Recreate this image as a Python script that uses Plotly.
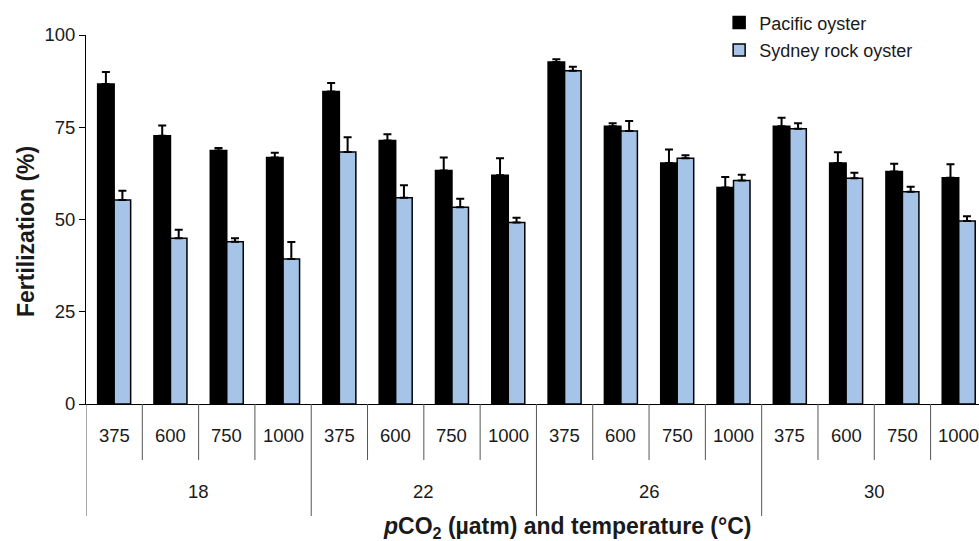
import plotly.graph_objects as go

temps = ["18", "22", "26", "30"]
pco2 = ["375", "600", "750", "1000"]

pacific = [86.7, 72.7, 68.7, 66.8, 84.7, 71.4, 63.3, 62.0, 92.7, 75.3, 65.3, 58.7, 75.3, 65.3, 63.0, 61.3]
pacific_err = [3.3, 2.8, 0.7, 1.3, 2.3, 1.7, 3.5, 4.6, 0.7, 0.8, 3.7, 2.8, 2.3, 2.9, 2.1, 3.7]
sydney = [55.3, 44.9, 44.0, 39.3, 68.3, 55.9, 53.3, 49.2, 90.3, 74.0, 66.6, 60.6, 74.6, 61.2, 57.5, 49.6]
sydney_err = [2.5, 2.3, 0.9, 4.6, 4.0, 3.4, 2.3, 1.3, 1.1, 2.7, 0.8, 1.5, 1.5, 1.5, 1.4, 1.3]

n = len(pacific)
xs = list(range(n))
font = "Liberation Sans, Arial, Helvetica, sans-serif"
txt = "#1a1a1a"

fig = go.Figure()
fig.add_bar(
    x=xs, y=pacific, name="Pacific oyster", legendgroup="a",
    marker=dict(color="#000000", line=dict(color="#000000", width=1.5)),
    error_y=dict(type="data", array=pacific_err, arrayminus=[0] * n, symmetric=False,
                 color="#000000", thickness=2, width=4),
)
fig.add_bar(
    x=xs, y=sydney, name="Sydney rock oyster", legendgroup="b",
    marker=dict(color="#a5c4e7", line=dict(color="#000000", width=1.5)),
    error_y=dict(type="data", array=sydney_err, arrayminus=[0] * n, symmetric=False,
                 color="#000000", thickness=2, width=4),
)

shapes = []
annotations = []
per = len(pco2)
for i in range(n):
    left = i - 0.5
    group_edge = (i % per == 0)
    shapes.append(dict(type="line", xref="x", yref="paper", x0=left, x1=left,
                       y0=0, y1=-0.3035 if group_edge else -0.1517,
                       line=dict(color="#555555", width=1)))
    annotations.append(dict(x=i, y=-0.0867, xref="x", yref="paper", text=pco2[i % per],
                            showarrow=False, yanchor="middle", xanchor="center",
                            font=dict(family=font, size=18.5, color=txt)))
for g, t in enumerate(temps):
    center = g * per + (per - 1) / 2
    annotations.append(dict(x=center, y=-0.2358, xref="x", yref="paper", text=t,
                            showarrow=False, yanchor="middle", xanchor="center",
                            font=dict(family=font, size=18.5, color=txt)))

annotations.append(dict(x=(567 - 86) / 893, y=(404 - 527) / 369, xref="paper", yref="paper",
                        text="<b><i>p</i>CO<sub>2</sub> (µatm) and temperature (°C)</b>",
                        showarrow=False, yanchor="middle", xanchor="center",
                        font=dict(family=font, size=23, color=txt)))
annotations.append(dict(x=(26 - 86) / 893, y=(404 - 232) / 369, xref="paper", yref="paper",
                        text="<b>Fertilization (%)</b>", textangle=-90,
                        showarrow=False, yanchor="middle", xanchor="center",
                        font=dict(family=font, size=23, color=txt)))

fig.update_layout(
    width=979, height=541,
    margin=dict(l=86, r=0, t=35, b=137, autoexpand=False),
    paper_bgcolor="white", plot_bgcolor="white",
    barmode="group", bargap=0.414, bargroupgap=0,
    font=dict(family=font, size=18, color=txt),
    showlegend=True,
    legend=dict(x=0.709, y=1.083, xanchor="left", yanchor="top",
                font=dict(family=font, size=18, color=txt),
                traceorder="grouped", tracegroupgap=1, bgcolor="rgba(0,0,0,0)"),
    xaxis=dict(range=[-0.5, 15.36], showticklabels=False, ticks="", showline=True,
               linecolor="#000000", linewidth=1, showgrid=False, zeroline=False, fixedrange=True),
    yaxis=dict(range=[0, 100], tickvals=[0, 25, 50, 75, 100], ticks="outside", ticklen=6,
               tickcolor="#000000", showline=True, linecolor="#000000", linewidth=1,
               showgrid=False, zeroline=False, tickfont=dict(family=font, size=18.5, color=txt)),
    shapes=shapes,
    annotations=annotations,
)

fig.write_html("out.html", config={"displayModeBar": False},
               post_script="document.body.style.margin='0';document.body.style.overflow='hidden';")
